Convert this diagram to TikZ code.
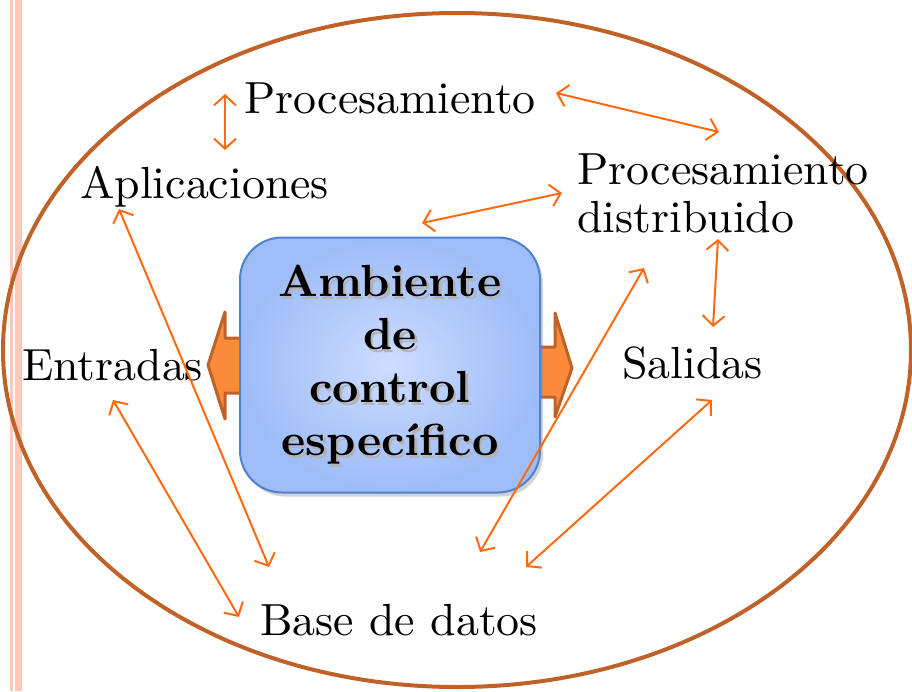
\documentclass[tikz,border=0pt]{standalone}
\usepackage{fontspec}
\setmainfont{lmroman10-regular.otf}[BoldFont=lmroman10-bold.otf, FakeStretch=1.02]
\usetikzlibrary{arrows.meta,shadows}

\definecolor{linkorange}{RGB}{255,106,16}
\definecolor{ringbrown}{RGB}{192,98,40}
\definecolor{barpink}{RGB}{255,200,184}
\definecolor{boxblue}{RGB}{79,129,205}
\definecolor{boxinner}{RGB}{204,221,255}
\definecolor{boxouter}{RGB}{158,188,247}
\definecolor{blockfill}{RGB}{250,139,59}
\definecolor{blockedge}{RGB}{192,98,40}

\tikzset{
  textlabel/.style={inner sep=0pt, anchor=base west, font=\fontsize{45}{48}\selectfont},
  link/.style={linkorange, line width=2pt,
    {Straight Barb[length=10pt,width=22pt]}-{Straight Barb[length=10pt,width=22pt]}},
  blockarrow/.style={fill=blockfill, draw=blockedge, line width=3pt, line join=round},
  ambbox/.style={draw=boxblue, line width=2pt, rounded corners=42pt,
    inner color=boxinner, outer color=boxouter,
    minimum width=300pt, minimum height=255pt,
    drop shadow={shadow xshift=3pt, shadow yshift=-4pt, opacity=0.35}},
  ambtext/.style={align=center, inner sep=0pt,
    font=\bfseries\fontsize{45}{53}\selectfont},
}

\begin{document}
\begin{tikzpicture}[x=1pt, y=-1pt]
  \useasboundingbox (0,0) rectangle (912,691);

  % page border stripes
  \fill[barpink] (10,0) rectangle (13,691);
  \fill[barpink] (15,0) rectangle (22,691);

  % outer ring
  \draw[ringbrown, line width=4pt] (457,350) ellipse [x radius=454, y radius=337];

  % block arrows behind the box
  \draw[blockarrow] (242,338) -- (225,338) -- (225,312) -- (208,365)
    -- (225,419) -- (225,393) -- (242,393) -- cycle;
  \draw[blockarrow] (538,347) -- (555,347) -- (555,313) -- (572,368)
    -- (555,417) -- (555,397) -- (538,397) -- cycle;

  % central box
  \node[ambbox] (ambiente) at (390,365) {};
  \node[ambtext, text=black!30] (ambientesh) at ([shift={(2.5,2.5)}]ambiente.center)
    {Ambiente\\de\\control\\específico};
  \node[ambtext] (ambientetxt) at (ambiente.center)
    {Ambiente\\de\\control\\específico};

  % labels
  \node[textlabel] (procesamiento) at (244,113) {Procesamiento};
  \node[textlabel] (aplicaciones) at (80,198) {Aplicaciones};
  \node[textlabel, anchor=north west, align=left] (distribuido) at (577,154)
    {Procesamiento\\distribuido};
  \node[textlabel] (entradas) at (22,380) {Entradas};
  \node[textlabel] (salidas) at (622,378) {Salidas};
  \node[textlabel] (basedatos) at (260,635) {Base de datos};

  % link ends
  \coordinate (proc-w) at (225,94);   \coordinate (apl-n) at (225,150);
  \coordinate (proc-e) at (556,93);   \coordinate (dist-n) at (719,132);
  \coordinate (amb-n) at (422,223);   \coordinate (dist-w) at (562,193);
  \coordinate (apl-s) at (119,209);   \coordinate (base-apl) at (269,567);
  \coordinate (ent-s) at (113,400);   \coordinate (base-ent) at (239,617);
  \coordinate (dist-s) at (718,239);  \coordinate (sal-n) at (713,327);
  \coordinate (dist-sw) at (644,268); \coordinate (base-dist) at (480,552);
  \coordinate (sal-s) at (712,400);   \coordinate (base-sal) at (526,567);

  \foreach \a/\b in {proc-w/apl-n, proc-e/dist-n, amb-n/dist-w,
      apl-s/base-apl, ent-s/base-ent, dist-s/sal-n,
      dist-sw/base-dist, sal-s/base-sal}
    \draw[link] (\a) -- (\b);
\end{tikzpicture}
\end{document}
